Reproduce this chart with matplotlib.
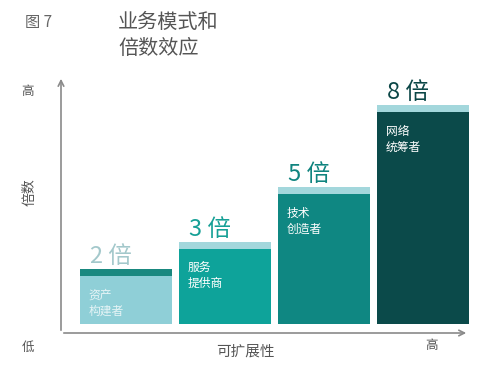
import matplotlib.pyplot as plt

plt.rcParams['font.family'] = ['Noto Sans CJK SC', 'DejaVu Sans']

# ====== Data ======
roles = ["资产\n构建者", "服务\n提供商", "技术\n创造者", "网络\n统筹者"]
multiples = [2, 3, 5, 8]
value_labels = ["2 倍", "3 倍", "5 倍", "8 倍"]

body_colors = ["#8fcfd7", "#0ea39a", "#0f8782", "#0b4a4a"]
strip_colors = ["#19887f", "#a3d7dc", "#a3d7dc", "#a3d7dc"]
label_colors = ["#a3c8cb", "#16a096", "#10847f", "#0c4747"]
role_colors = ["#e6f4f6", "white", "white", "white"]

STRIP = 0.24
WIDTH = 0.93

# ====== Plot ======
fig = plt.figure(figsize=(4.92, 3.68), dpi=100)
fig.patch.set_facecolor("white")
# axes box matches the arrowed frame of the original
ax = fig.add_axes([61 / 492, 1 - 333 / 368, (469 - 61) / 492, (333 - 76) / 368])
ax.set_xlim(-0.657, 3.46)
ax.set_ylim(-0.33, 9.08)
ax.axis("off")

xs = list(range(len(multiples)))
ax.bar(xs, [m - STRIP for m in multiples], width=WIDTH, color=body_colors, linewidth=0)
ax.bar(xs, [STRIP] * len(multiples), bottom=[m - STRIP for m in multiples],
       width=WIDTH, color=strip_colors, linewidth=0)

for x, m, lab, c in zip(xs, multiples, value_labels, label_colors):
    ax.annotate(lab, (x - WIDTH / 2, m), xytext=(7, 1), textcoords="offset points",
                ha="left", va="bottom", fontsize=17, color=c)

for x, m, r, c in zip(xs, multiples, roles, role_colors):
    ax.annotate(r, (x - WIDTH / 2, m - STRIP), xytext=(6, -9), textcoords="offset points",
                ha="left", va="top", fontsize=8.5, color=c, linespacing=1.3)

# arrowed axes
axis_col = "#8a8a8a"
ax.annotate("", xy=(0, 1.0), xytext=(0, 0), xycoords="axes fraction",
            arrowprops=dict(arrowstyle="->", color=axis_col, lw=1.2))
ax.annotate("", xy=(1.0, 0), xytext=(0, 0), xycoords="axes fraction",
            arrowprops=dict(arrowstyle="->", color=axis_col, lw=1.2))

# axis labels
txt = "#555555"
fig.text(28 / 492, 1 - 92 / 368, "高", fontsize=9, color=txt, ha="center", va="center")
fig.text(28 / 492, 1 - 347 / 368, "低", fontsize=9, color=txt, ha="center", va="center")
fig.text(30 / 492, 1 - 192 / 368, "倍数", fontsize=10, color=txt, ha="center",
         va="center", rotation=90)
fig.text(245 / 492, 1 - 352 / 368, "可扩展性", fontsize=10.5, color=txt,
         ha="center", va="center")
fig.text(432 / 492, 1 - 346 / 368, "高", fontsize=9, color=txt, ha="center", va="center")

# title
fig.text(25 / 492, 1 - 22 / 368, "图 7", fontsize=11, color="#666666", ha="left", va="center")
fig.text(118 / 492, 1 - 22 / 368, "业务模式和", fontsize=14.5, color="#555555",
         ha="left", va="center")
fig.text(118 / 492, 1 - 48 / 368, "倍数效应", fontsize=14.5, color="#555555",
         ha="left", va="center")

fig.savefig("out.png", dpi=100)
